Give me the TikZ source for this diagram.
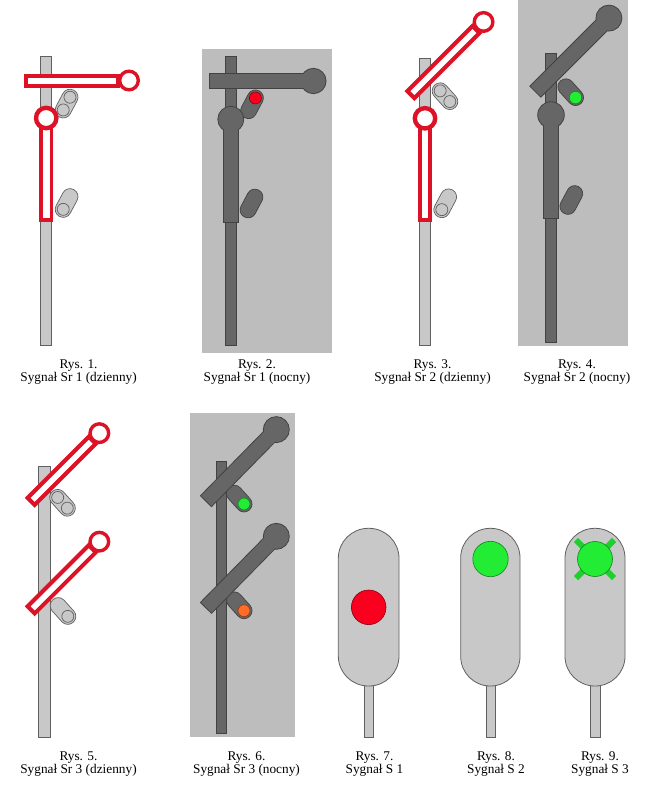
\documentclass[tikz,border=0pt]{standalone}
\usepackage{fontspec}
\setmainfont{Liberation Serif}
\definecolor{armred}{RGB}{222,18,38}
\definecolor{mastgrey}{RGB}{200,200,200}
\definecolor{edgegrey}{RGB}{96,96,96}
\definecolor{nightbg}{RGB}{189,189,189}
\definecolor{nightgrey}{RGB}{102,102,102}
\definecolor{nightedge}{RGB}{66,66,66}
\definecolor{lampred}{RGB}{250,0,30}
\definecolor{lampgreen}{RGB}{34,236,52}
\definecolor{lamporange}{RGB}{255,108,40}
\tikzset{
  mastday/.style={fill=mastgrey, draw=edgegrey, line width=0.8pt},
  mastnight/.style={fill=nightgrey, draw=nightedge, line width=0.8pt},
  armday/.style={draw=armred, fill=white, line width=4pt},
  armnight/.style={fill=nightgrey, draw=nightedge, line width=0.8pt},
  lensday/.style={fill=mastgrey, draw=edgegrey, line width=0.7pt},
  lensnight/.style={fill=nightgrey, draw=nightedge, line width=0.7pt},
  lamp/.style={fill=#1, draw=#1!55!black, line width=0.6pt},
  caption/.style={font=\fontsize{13.3}{13.6}\selectfont, align=center, anchor=north, inner sep=0pt}
}

\begin{document}
\begin{tikzpicture}[x=1pt, y=-1pt]
  \useasboundingbox (0,0) rectangle (651,795);

  % Rys. 1 -- Sr 1, day
  \draw[mastday] (40.7,56.7) rectangle (51.7,345);
  \begin{scope}[shift={(66.6,103.6)}, rotate=62]
    \draw[lensday, rounded corners=7.9pt] (-15.2,-8) rectangle (15.2,8);
    \draw[lensday] (7.2,0) circle (6);
    \draw[lensday] (-7.2,0) circle (6);
  \end{scope}
  \begin{scope}[shift={(66.6,203)}, rotate=62]
    \draw[lensday, rounded corners=7.9pt] (-15.2,-8) rectangle (15.2,8);
    \draw[lensday] (-7.2,0) circle (6);
  \end{scope}
  \begin{scope}[shift={(46.2,80.5)}]
    \draw[armday] (-20,-5) rectangle (72,5);
    \draw[armday, line width=3.4pt] (82.8,0) circle (9.3);
  \end{scope}
  \draw[armday, line width=3.7pt] (41.05,122) rectangle (51.35,220);
  \draw[armday, line width=4.4pt] (46.2,118) circle (10.2);

  % Rys. 2 -- Sr 1, night
  \fill[nightbg] (201.7,49.3) rectangle (331.7,352.7);
  \draw[mastnight] (225,56.7) rectangle (236.7,345);
  \begin{scope}[shift={(252,104.3)}, rotate=62]
    \draw[lensnight, rounded corners=7.9pt] (-15.2,-8) rectangle (15.2,8);
    \draw[lamp=lampred] (7.2,0) circle (6);
  \end{scope}
  \begin{scope}[shift={(251.5,203.5)}, rotate=62]
    \draw[lensnight, rounded corners=7.9pt] (-15.2,-8) rectangle (15.2,8);
  \end{scope}
  \begin{scope}[shift={(230.8,81)}]
    \draw[armnight] (-21.5,-7.8) rectangle (74,7.8);
    \draw[armnight] (82.6,0) circle (12.7);
    \fill[nightgrey] (69,-7.4) rectangle (76,7.4);
  \end{scope}
  \draw[armnight] (223.3,126) rectangle (238.3,222.7);
  \draw[armnight] (230.8,119.3) circle (13);
  \fill[nightgrey] (223.7,124) rectangle (237.9,134);

  % Rys. 3 -- Sr 2, day
  \draw[mastday] (419.3,58.3) rectangle (430.7,345);
  \begin{scope}[shift={(445,96.2)}, rotate=132]
    \draw[lensday, rounded corners=7.9pt] (-15.2,-8) rectangle (15.2,8);
    \draw[lensday] (7.2,0) circle (6);
    \draw[lensday] (-7.2,0) circle (6);
  \end{scope}
  \begin{scope}[shift={(445.2,203.3)}, rotate=62]
    \draw[lensday, rounded corners=7.9pt] (-15.2,-8) rectangle (15.2,8);
    \draw[lensday] (-7.2,0) circle (6);
  \end{scope}
  \begin{scope}[shift={(425,80.5)}, rotate=45]
    \draw[armday] (-20,-5) rectangle (72,5);
    \draw[armday, line width=3.4pt] (82.8,0) circle (9.3);
  \end{scope}
  \draw[armday, line width=3.7pt] (419.85,122) rectangle (430.15,219.8);
  \draw[armday, line width=4.4pt] (425,118.3) circle (10.2);

  % Rys. 4 -- Sr 2, night
  \fill[nightbg] (517.5,0) rectangle (627.5,346);
  \draw[mastnight] (545,53.3) rectangle (556,342);
  \begin{scope}[shift={(570.7,92.2)}, rotate=132]
    \draw[lensnight, rounded corners=7.9pt] (-15.2,-8) rectangle (15.2,8);
    \draw[lamp=lampgreen] (-7.2,0) circle (6.3);
  \end{scope}
  \begin{scope}[shift={(571.3,200)}, rotate=62]
    \draw[lensnight, rounded corners=7.9pt] (-15.2,-8) rectangle (15.2,8);
  \end{scope}
  \begin{scope}[shift={(550.5,76.5)}, rotate=45]
    \draw[armnight] (-21.5,-7.8) rectangle (74,7.8);
    \draw[armnight] (82.6,0) circle (13);
    \fill[nightgrey] (69,-7.4) rectangle (76,7.4);
  \end{scope}
  \draw[armnight] (543.5,122) rectangle (558.5,218.3);
  \draw[armnight] (551,115) circle (13.3);
  \fill[nightgrey] (543.9,120) rectangle (558.1,130);

  % Rys. 5 -- Sr 3, day
  \draw[mastday] (38.3,466) rectangle (50,737.3);
  \begin{scope}[shift={(62.5,502.8)}, rotate=132]
    \draw[lensday, rounded corners=7.9pt] (-15.2,-8) rectangle (15.2,8);
    \draw[lensday] (7.2,0) circle (6);
    \draw[lensday] (-7.2,0) circle (6);
  \end{scope}
  \begin{scope}[shift={(63,611)}, rotate=132]
    \draw[lensday, rounded corners=7.9pt] (-15.2,-8) rectangle (15.2,8);
    \draw[lensday] (-7.2,0) circle (6);
  \end{scope}
  \foreach \py in {488.3,596.8} {
    \begin{scope}[shift={(44.2,\py)}, rotate=45]
      \draw[armday] (-18.5,-5) rectangle (68,5);
      \draw[armday, line width=3.4pt] (78,0) circle (9.3);
    \end{scope}
  }

  % Rys. 6 -- Sr 3, night
  \fill[nightbg] (190,412.7) rectangle (295,737.3);
  \draw[mastnight] (216,461.7) rectangle (226.7,733.3);
  \begin{scope}[shift={(239.2,498.6)}, rotate=132]
    \draw[lensnight, rounded corners=7.9pt] (-15.2,-8) rectangle (15.2,8);
    \draw[lamp=lampgreen] (-7.2,0) circle (6);
  \end{scope}
  \begin{scope}[shift={(239.2,605.3)}, rotate=132]
    \draw[lensnight, rounded corners=7.9pt] (-15.2,-8) rectangle (15.2,8);
    \draw[lamp=lamporange] (-7.2,0) circle (6);
  \end{scope}
  \foreach \py in {485.6,592.3} {
    \begin{scope}[shift={(221.3,\py)}, rotate=45.5]
      \draw[armnight] (-21.9,-7.8) rectangle (70,7.8);
      \draw[armnight] (78.5,0) circle (13);
      \fill[nightgrey] (65,-7.4) rectangle (71,7.4);
    \end{scope}
  }

  % Rys. 7 -- S 1
  \draw[mastday] (364,680) rectangle (373.3,737.3);
  \draw[mastday, rounded corners=30pt] (338.3,528.3) rectangle (399,686);
  \draw[lamp=lampred] (368.7,607.3) circle (17.3);

  % Rys. 8 -- S 2
  \draw[mastday] (486,680) rectangle (495.7,737.3);
  \draw[mastday, rounded corners=29.5pt] (460.7,528.3) rectangle (520,686);
  \draw[lamp=lampgreen] (490.5,559) circle (17.7);

  % Rys. 9 -- S 3
  \draw[mastday] (590.7,680) rectangle (600,737.3);
  \draw[mastday, rounded corners=29.8pt] (565,528.3) rectangle (625,686);
  \foreach \a in {45,135,225,315} {
    \fill[lampgreen!88!black, rotate around={\a:(595,559)}] (595,556) rectangle (622,562);
  }
  \draw[lamp=lampgreen] (595,559) circle (17.5);

  % captions
  \node[caption] (rys1) at (78.6,359.2) {Rys. 1.\\Sygnał Sr 1 (dzienny)};
  \node[caption] (rys2) at (257,359.2) {Rys. 2.\\Sygnał Sr 1 (nocny)};
  \node[caption] (rys3) at (432.5,359.2) {Rys. 3.\\Sygnał Sr 2 (dzienny)};
  \node[caption] (rys4) at (577,359.2) {Rys. 4.\\Sygnał Sr 2 (nocny)};
  \node[caption] (rys5) at (78.5,751.2) {Rys. 5.\\Sygnał Sr 3 (dzienny)};
  \node[caption] (rys6) at (246.5,751.2) {Rys. 6.\\Sygnał Sr 3 (nocny)};
  \node[caption] (rys7) at (374.5,751.2) {Rys. 7.\\Sygnał S 1};
  \node[caption] (rys8) at (496,751.2) {Rys. 8.\\Sygnał S 2};
  \node[caption] (rys9) at (600,751.2) {Rys. 9.\\Sygnał S 3};
\end{tikzpicture}
\end{document}
